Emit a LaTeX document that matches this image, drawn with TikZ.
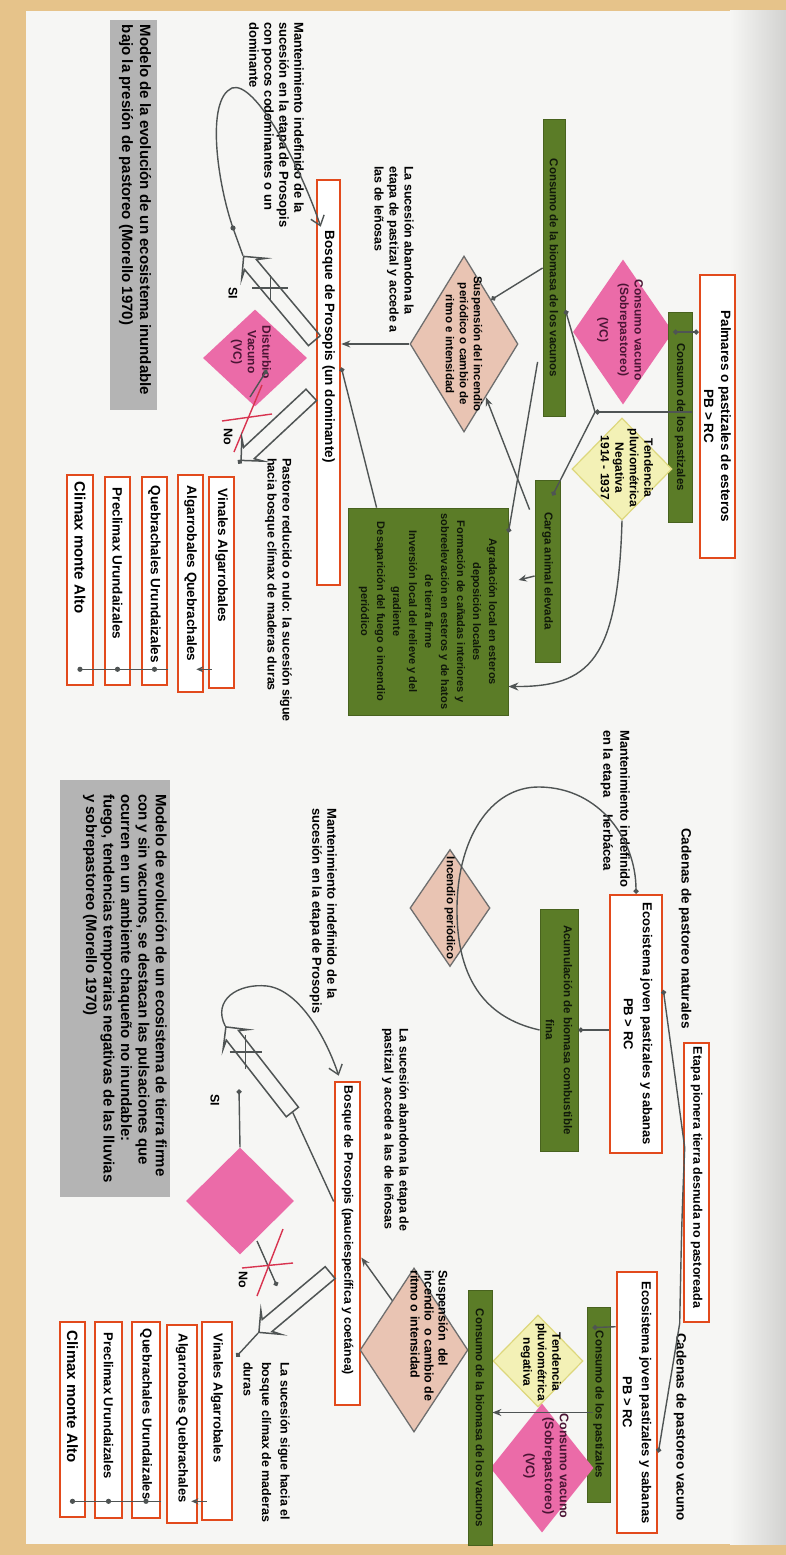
\documentclass[tikz,border=0pt]{standalone}
\usepackage{fontspec}
\setmainfont{Liberation Sans}
\usetikzlibrary{shapes.geometric,shapes.arrows,arrows.meta,calc}
\newcommand\myfs[2]{\fontsize{#1}{#2}\selectfont}
\definecolor{tanc}{HTML}{E6C38A}
\definecolor{paper}{HTML}{F6F6F4}
\definecolor{shadeg}{HTML}{D2D2D0}
\definecolor{ored}{HTML}{E24A1C}
\definecolor{ggreen}{HTML}{5B7C27}
\definecolor{gbord}{HTML}{48621E}
\definecolor{gdark}{HTML}{10180A}
\definecolor{salm}{HTML}{E9C4B3}
\definecolor{gline}{HTML}{6E6E6E}
\definecolor{pinkd}{HTML}{EB6BA8}
\definecolor{purp}{HTML}{4A1534}
\definecolor{yel}{HTML}{F3F1B6}
\definecolor{yelb}{HTML}{DDD77C}
\definecolor{capg}{HTML}{B4B4B4}
\definecolor{lc}{HTML}{4F5454}
\definecolor{redx}{HTML}{D8334F}
\begin{document}
\begin{tikzpicture}[x=1pt,y=-1pt,
 rot/.style={rotate=-90},
 txt/.style={rot,inner sep=0pt,align=left,font=\bfseries\myfs{12.5}{15}},
 ctxt/.style={rot,inner sep=0pt,align=center,font=\bfseries\myfs{12}{14.5}},
 obox/.style={rot,draw=ored,line width=2.6pt,fill=white,inner sep=0pt},
 gbox/.style={rot,fill=ggreen,draw=gbord,line width=0.8pt,inner sep=0pt},
 gtxt/.style={rot,inner sep=0pt,align=center,text=gdark,font=\bfseries\myfs{11.5}{16}},
 sdia/.style={rot,diamond,fill=salm,draw=gline,line width=1.3pt,inner sep=0pt},
 pdia/.style={rot,diamond,fill=pinkd,inner sep=0pt},
 ydia/.style={rot,diamond,fill=yel,draw=yelb,line width=1.2pt,inner sep=0pt},
 capbox/.style={rot,fill=capg,inner sep=0pt},
 conn/.style={draw=lc,line width=1.4pt},
 harrow/.style={single arrow,draw=lc,line width=1.5pt,inner sep=7pt,single arrow head extend=8pt,single arrow head indent=5pt,minimum height=#1},
 redl/.style={draw=redx,line width=1.4pt},
 lst/.style={txt,anchor=west,font=\bfseries\myfs{13.5}{15}},
]
\useasboundingbox (0,0) rectangle (786,1555);
\fill[tanc] (0,0) rectangle (786,1555);
\fill[paper] (26,11) rectangle (786,1544);
\shade[left color=paper,right color=shadeg] (730,11) rectangle (786,1544);

% ================= TOP DIAGRAM =================
\node[capbox,minimum width=390pt,minimum height=47pt] (cap1) at (133.5,215) {};
\node[txt,anchor=north west,font=\bfseries\myfs{15}{18}] (cap1t) at ($(cap1.north west)+(-6,5)$) {Modelo de la evolución de un ecosistema inundable\\bajo la presión de pastoreo (Morello 1970)};

\node[txt,anchor=north west,font=\bfseries\myfs{13}{15}] (mant1) at (304,22) {Mantenimiento indefinido de la\\sucesión en la etapa de Prosopis\\con pocos codominantes o un\\dominante};

\node[obox,minimum width=405pt,minimum height=23pt] (bosq1) at (328.5,382.5) {};
\node[txt,anchor=west,font=\bfseries\myfs{13.5}{15}] (bosq1t) at ($(bosq1.west)+(0,52)$) {Bosque de Prosopis (un dominante)};

\node[txt,anchor=north west] (sucab1) at (414,166) {La sucesión abandona la\\etapa de pastizal y accede a\\las de leñosas};

\node[sdia,minimum width=176pt,minimum height=108pt] (dsal1) at (464,344) {};
\node[ctxt,font=\bfseries\myfs{11.5}{14}] (dsal1t) at (dsal1) {Suspensión del incendio\\periódico o cambio de\\ritmo e intensidad};

\node[gbox,minimum width=297pt,minimum height=22pt] (gbar1) at (554,268) {};
\node[gtxt] (gbar1t) at (gbar1) {Consumo de la biomasa de los vacunos};

\node[pdia,minimum width=145pt,minimum height=100pt] (dpink1) at (623,332) {};
\node[ctxt,text=purp] (dpink1t) at (620,330) {Consumo vacuno\\(Sobrepastoreo)\\[6pt](VC)};

\node[gbox,minimum width=210pt,minimum height=24pt] (gbar2) at (680,417) {};
\node[gtxt] (gbar2t) at (gbar2) {Consumo de los pastizales};

\node[obox,minimum width=283pt,minimum height=35pt] (opalm) at (717.5,416.5) {};
\node[ctxt,font=\bfseries\myfs{13.5}{17}] (opalmt) at (opalm) {Palmares o pastizales de esteros\\PB > RC};

\node[ydia,minimum width=102pt,minimum height=100pt] (dyel1) at (622,469) {};
\node[ctxt,font=\bfseries\myfs{12}{14.5}] (dyel1t) at (627,468) {Tendencia\\pluviométrica\\Negativa\\1914 - 1937};

\coordinate (j1) at (595,412);

\node[gbox,minimum width=182pt,minimum height=25pt] (gbar3) at (547.5,571) {};
\node[gtxt] (gbar3t) at (gbar3) {Carga animal elevada};

\node[gbox,minimum width=207pt,minimum height=160pt] (gbig) at (428,611.5) {};
\node[gtxt,font=\bfseries\myfs{11}{16}] (gbigt) at (gbig) {Agradación local en esteros\\deposición locales\\Formación de cañadas interiores y\\sobreelevación en esteros y de hatos\\de tierra firme\\Inversión local del relieve y del\\gradiente\\Desaparición del fuego o incendio\\periódico};

% connectors top
\draw[conn,{Circle[length=5pt]}-{Circle[length=5pt]}] (opalm.south |- dpink1.north) -- (dpink1.north);
\draw[conn,-{Circle[length=5pt]}] (gbar2.north |- j1) -- (j1);
\draw[conn,-{Circle[length=5pt]}] (j1) -- ($(gbar1.north)+(0,42)$);
\draw[conn,-{Circle[length=5pt]}] (j1) -- ($(gbar3.west)+(5,16)$);
\draw[conn,{Circle[length=5pt]}-] ($(dsal1.west)!0.5!(dsal1.north)$) -- (gbar1.south);
\draw[conn,-{Stealth[length=9pt,width=7pt]}] ($(gbar3.south west)+(-5,30)$) -- ($(dsal1.north)!0.6!(dsal1.east)$);
\draw[conn,{Circle[length=5pt]}-] ($(gbig.north west)+(0,25)$) -- ($(gbar1.south east)+(-5,-55)$);
\draw[conn,-{Circle[length=5pt]}] ($(gbig.south west)+(29,0)$) -- ($(bosq1.north)+(0,-15)$);
\draw[conn,-{Stealth[length=9pt,width=7pt]}] (dsal1.south) -- (bosq1.north |- dsal1.south);
\draw[conn,-{Stealth[length=10pt,width=8pt]}] (dyel1.east) .. controls (618,660) and (590,687) .. ($(gbig.north)+(0,75)$);
\draw[conn,-{Stealth[length=8pt,width=7pt]}] ($(gbar3.south)+(0,5)$) -- ($(gbar3.south)+(-16,9)$);

% SI / No top
\node[harrow=110pt,rotate=130] (ha1) at (281.5,301.5) {};
\coordinate (cx1) at ($(ha1.tail)!0.62!(ha1.tip)$);
\draw[conn] ($(cx1)+(-18,0)$) -- ($(cx1)+(18,0)$);
\draw[conn] ($(cx1)+(0,-13)$) -- ($(cx1)+(0,13)$);
\draw[conn,-{Straight Barb[length=9pt,width=14pt]}] (ha1.tip) -- (233,228) .. controls (218,185) and (205,100) .. (232,88) .. controls (255,80) and (300,165) .. ($(bosq1.south west)+(5,48)$);
\fill[lc] (233,228) circle (2.6pt);
\node[txt] (si1) at (233,293) {SI};

\node[pdia,minimum width=97pt,minimum height=104pt] (dpink3) at (255,358) {};
\node[ctxt,text=purp] (dpink3t) at (251,352) {Disturbio\\Vacuno\\(VC)};
\draw[conn,{Circle[length=5pt]}-] ($(dpink3.center)+(12,12)$) -- ($(dpink3.center)+(-5,39)$);
\draw[redl] ($(dpink3.center)+(7,27)$) -- ($(dpink3.center)+(-21,94)$);
\draw[redl] ($(dpink3.center)+(-33,63)$) -- ($(dpink3.center)+(17,56)$);
\node[txt] (no1) at (228,437) {No};

\node[harrow=96pt,rotate=-137] (ha2) at (279,425) {};

\node[txt,anchor=north west] (past1) at (292,458) {Pastoreo reducido o nulo: la sucesión sigue\\hacia bosque clímax de maderas duras};

\node[obox,minimum width=211pt,minimum height=25pt] (l1a) at (221.5,582.5) {};
\node[obox,minimum width=217pt,minimum height=25pt] (l2a) at (190.5,583.5) {};
\node[obox,minimum width=208pt,minimum height=25pt] (l3a) at (154.5,581) {};
\node[obox,minimum width=208pt,minimum height=25pt] (l4a) at (117.5,581) {};
\node[obox,minimum width=210pt,minimum height=26pt] (l5a) at (80,580) {};
\node[lst] (l1at) at ($(l1a.west)+(0,13)$) {Vinales Algarrobales};
\node[lst] (l2at) at ($(l2a.west)+(0,12)$) {Algarrobales Quebrachales};
\node[lst] (l3at) at ($(l3a.west)+(0,10)$) {Quebrachales Urundaizales};
\node[lst] (l4at) at ($(l4a.west)+(0,12)$) {Preclimax Urundaizales};
\node[lst,font=\bfseries\myfs{15}{17}] (l5at) at ($(l5a.west)+(0,8)$) {Climax monte Alto};

\draw[conn,-{Circle[length=5pt]}] (ha2.tip) -- ($(l1a.north west)+(3,-12)$);
\coordinate (s1) at ($(l1a.south east)+(4,-20)$);
\draw[conn,-{Stealth[length=7pt,width=6pt]}] (s1) -- ($(l2a.north |- s1)+(-8,0)$);
\draw[conn] (l3a.north |- s1) -- (l5a |- s1);
\fill[lc] (l3a |- s1) circle (2.6pt);
\fill[lc] (l4a |- s1) circle (2.6pt);
\fill[lc] (l5a |- s1) circle (2.6pt);

% ================= BOTTOM DIAGRAM =================
\node[capbox,minimum width=417pt,minimum height=110pt] (cap2) at (115,988.5) {};
\node[txt,anchor=north west,font=\bfseries\myfs{15}{17.5}] (cap2t) at ($(cap2.north west)+(-3,14)$) {Modelo de evolución de un ecosistema de tierra firme\\con y sin vacunos, se destacan las pulsaciones que\\ocurren en un ambiente chaqueño no inundable:\\fuego, tendencias temporarias negativas de las lluvias\\y sobrepastoreo (Morello 1970)};

\node[txt,anchor=north west,font=\bfseries\myfs{13}{15}] (mant2) at (337,808) {Mantenimiento indefinido de la\\sucesión en la etapa de Prosopis};

\node[obox,minimum width=323pt,minimum height=25pt] (bosq2) at (347.5,1243.5) {};
\node[txt,anchor=west,font=\bfseries\myfs{12.3}{15}] (bosq2t) at ($(bosq2.west)+(0,5)$) {Bosque de Prosopis (pauciespecífica y coetánea)};

\node[txt,anchor=north west] (sucab2) at (409,1028) {La sucesión abandona la etapa de\\pastizal y accede a las de leñosas};

\node[sdia,minimum width=117pt,minimum height=80pt] (dsal2) at (450,908) {};
\node[ctxt,font=\bfseries\myfs{11.5}{14}] (dsal2t) at (dsal2) {Incendio periódico};

\node[gbox,minimum width=242pt,minimum height=38pt] (gbar4) at (559,1030) {};
\node[gtxt,font=\bfseries\myfs{11.5}{18}] (gbar4t) at (gbar4) {Acumulación de biomasa combustible\\fina};

\node[obox,minimum width=258pt,minimum height=52pt] (ecos1) at (636,1024) {};
\node[ctxt,font=\bfseries\myfs{13}{19}] (ecos1t) at ($(ecos1)+(2,0)$) {Ecosistema joven pastizales y sabanas\\PB > RC};

\node[txt,anchor=north west,font=\bfseries\myfs{13}{17}] (mant3) at (630,730) {Mantenimiento indefinido\\en la etapa \quad herbácea};
\node[txt,anchor=west,font=\bfseries\myfs{13.5}{15}] (cad1) at (685,828) {Cadenas de pastoreo naturales};

\draw[conn,-{Circle[length=5pt]}] (gbar4.south) .. controls (495,1020) and (458,990) .. (457,913) .. controls (456,840) and (490,786) .. (540,787) .. controls (600,788) and (636,840) .. (ecos1.west);
\draw[conn,{Circle[length=5pt]}-] (gbar4.north) -- (ecos1.south |- gbar4.north);

\node[obox,minimum width=279pt,minimum height=25pt] (getapa) at (696.5,1182.5) {};
\node[txt,anchor=west,font=\bfseries\myfs{12.5}{15}] (getapat) at ($(getapa.west)+(0,5)$) {Etapa pionera tierra desnuda no pastoreada};

\node[obox,minimum width=261pt,minimum height=40pt] (ecos2) at (637,1402.5) {};
\node[ctxt,font=\bfseries\myfs{13}{19}] (ecos2t) at (ecos2) {Ecosistema joven pastizales y sabanas\\PB > RC};
\node[txt,anchor=west,font=\bfseries\myfs{13.5}{15}] (cad2) at (680,1333) {Cadenas de pastoreo vacuno};

\draw[conn,{Circle[length=5pt]}-{Circle[length=5pt]}] ($(ecos1.north)+(0,-34)$) -- ($(getapa.south)+(2,-35)$) .. controls ($(getapa.south)+(-1,40)$) .. ($(getapa.south east)+(-3,0)$) -- ($(ecos2.north)+(0,50)$);

\node[gbox,minimum width=195pt,minimum height=23pt] (gbar5) at (598.5,1404.5) {};
\node[gtxt] (gbar5t) at (gbar5) {Consumo de los pastizales};
\draw[conn,-{Circle[length=5pt]}] ($(ecos2.south west)+(0,56)$) -- ($(gbar5.south west)+(6,21)$);

\node[ydia,minimum width=92pt,minimum height=90pt] (dyel2) at (538,1361) {};
\node[ctxt,font=\bfseries\myfs{12}{14.5}] (dyel2t) at (541,1362) {Tendencia\\pluviométrica\\negativa};
\node[pdia,minimum width=129pt,minimum height=103pt] (dpink2) at (542,1468) {};
\node[ctxt,text=purp,font=\bfseries\myfs{12.5}{15}] (dpink2t) at (546,1466) {Consumo vacuno\\(Sobrepastoreo)\\[4pt](VC)};

\node[sdia,minimum width=164pt,minimum height=108pt] (dsal2b) at (414,1350) {};
\node[txt,anchor=north west,font=\bfseries\myfs{12.5}{14}] (dsal2bt) at (448,1270) {Suspensión \ del\\incendio \ o cambio de\\ritmo o intensidad};

\node[gbox,minimum width=255pt,minimum height=24pt] (gbar6) at (480,1418) {};
\node[gtxt] (gbar6t) at (gbar6) {Consumo de la biomasa de los vacunos};

\coordinate (s5) at ($(gbar5.south)+(6,8)$);
\draw[conn,-{Stealth[length=9pt,width=7pt]}] (s5) -- (gbar6.north |- s5);
\draw[conn,-{Stealth[length=9pt,width=7pt]}] ($(dsal2b.west)!0.4!(dsal2b.south)$) -- ($(bosq2.north)+(0,14)$);

% SI / No bottom
\node[harrow=108pt,rotate=128] (ha3) at (261.5,1072.5) {};
\coordinate (cx3) at ($(ha3.tail)!0.7!(ha3.tip)$);
\draw[conn] ($(cx3)+(-16,0)$) -- ($(cx3)+(16,0)$);
\draw[conn] ($(cx3)+(0,-17)$) -- ($(cx3)+(0,17)$);
\draw[conn] ($(bosq2.south)+(0,-42)$) -- (ha3.tail);
\draw[conn,-{Straight Barb[length=9pt,width=14pt]}] (ha3.tip) .. controls (212,1000) and (238,983) .. (267,986) .. controls (300,990) and (327,1040) .. ($(bosq2.south west)+(5,-5)$);
\node[txt] (si2) at (215,1100) {SI};

\node[pdia,minimum width=107pt,minimum height=108pt] (dpink4) at (240,1201) {};
\draw[conn,-{Circle[length=5pt]}] (dpink4.west) -- ($(dpink4.west)+(-1,-58)$);
\draw[conn,-{Circle[length=5pt]}] ($(dpink4.center)+(17,40)$) -- ($(dpink4.center)+(37,85)$);
\draw[redl] ($(dpink4.center)+(43,28)$) -- ($(dpink4.center)+(17,95)$);
\draw[redl] ($(dpink4.center)+(2,67)$) -- ($(dpink4.center)+(53,62)$);
\node[txt] (no2) at (243,1280) {No};

\node[harrow=93pt,rotate=-140] (ha4) at (297.5,1300) {};

\node[obox,minimum width=198pt,minimum height=30pt] (l1b) at (217,1421) {};
\node[obox,minimum width=198pt,minimum height=30pt] (l2b) at (182,1424) {};
\node[obox,minimum width=196pt,minimum height=28pt] (l3b) at (146,1420) {};
\node[obox,minimum width=196pt,minimum height=27pt] (l4b) at (108.5,1420) {};
\node[obox,minimum width=195pt,minimum height=25pt] (l5b) at (72.5,1419.5) {};
\node[lst,font=\bfseries\myfs{13}{15}] (l1bt) at ($(l1b.west)+(0,13)$) {Vinales Algarrobales};
\node[lst,font=\bfseries\myfs{13}{15}] (l2bt) at ($(l2b.west)+(0,10)$) {Algarrobales Quebrachales};
\node[lst,font=\bfseries\myfs{13}{15}] (l3bt) at ($(l3b.west)+(0,8)$) {Quebrachales Urundaizales};
\node[lst,font=\bfseries\myfs{13}{15}] (l4bt) at ($(l4b.west)+(0,12)$) {Preclimax Urundaizales};
\node[lst,font=\bfseries\myfs{15}{17}] (l5bt) at ($(l5b.west)+(0,10)$) {Climax monte Alto};

\draw[conn,-{Circle[length=5pt]}] (ha4.tip) -- ($(l1b.north west)+(3,36)$);
\coordinate (s2) at ($(l1b.south east)+(6,-20)$);
\draw[conn,-{Stealth[length=7pt,width=6pt]}] (s2) -- ($(l2b.north |- s2)+(-7,0)$);
\draw[conn] (l3b.north |- s2) -- (l5b |- s2);
\fill[lc] (l3b |- s2) circle (2.6pt);
\fill[lc] (l4b |- s2) circle (2.6pt);
\fill[lc] (l5b |- s2) circle (2.6pt);

\node[txt,anchor=north west,font=\bfseries\myfs{12.5}{18.5}] (sig2) at (290,1362) {La sucesión sigue hacia el\\bosque clímax de maderas\\duras};
\end{tikzpicture}
\end{document}
